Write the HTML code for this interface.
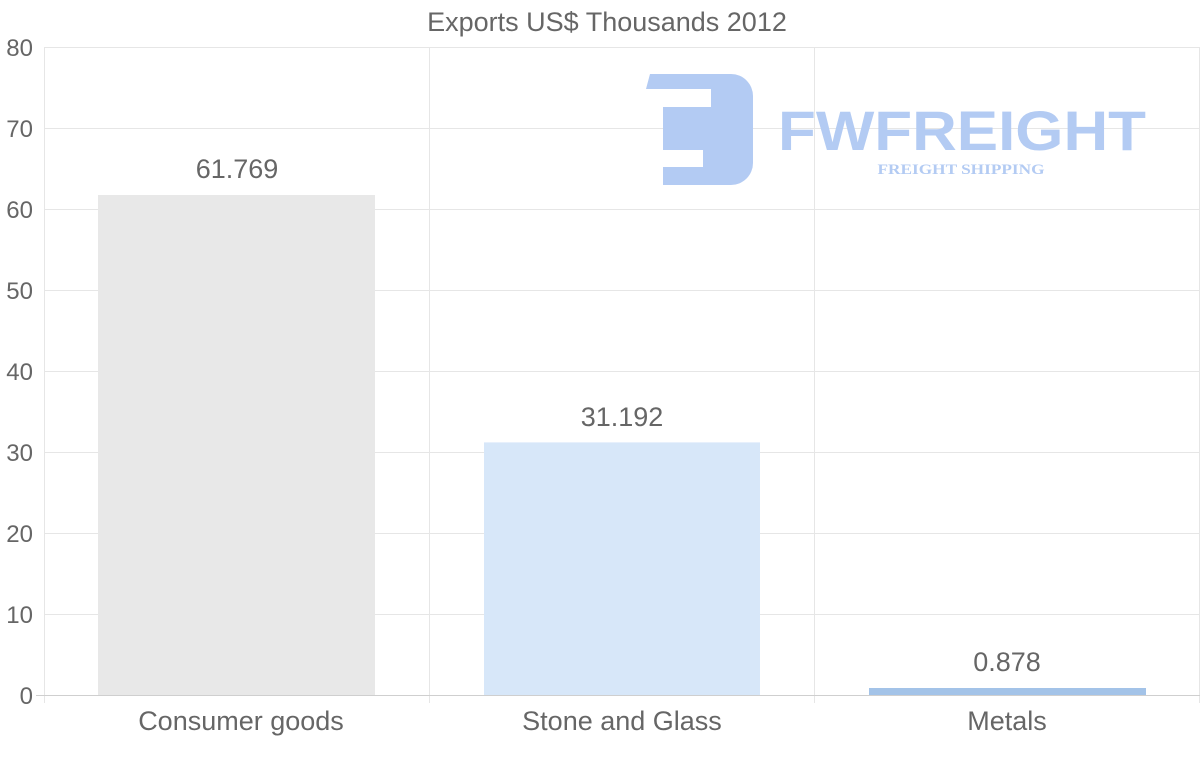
<!DOCTYPE html>
<html><head><meta charset="utf-8"><style>
body{margin:0;background:#fff;}
svg text{font-family:"Liberation Sans",Arial,sans-serif;}
</style></head><body>
<svg width="1200" height="763" xmlns="http://www.w3.org/2000/svg">
<rect width="1200" height="763" fill="#fff"/>
<g stroke="#e6e6e6" stroke-width="1">
<line x1="44" y1="47.5" x2="1200" y2="47.5"/>
<line x1="44" y1="128.5" x2="1200" y2="128.5"/>
<line x1="44" y1="209.5" x2="1200" y2="209.5"/>
<line x1="44" y1="290.5" x2="1200" y2="290.5"/>
<line x1="44" y1="371.5" x2="1200" y2="371.5"/>
<line x1="44" y1="452.5" x2="1200" y2="452.5"/>
<line x1="44" y1="533.5" x2="1200" y2="533.5"/>
<line x1="44" y1="614.5" x2="1200" y2="614.5"/>
<line x1="44.5" y1="47" x2="44.5" y2="703"/>
<line x1="429.5" y1="47" x2="429.5" y2="703"/>
<line x1="814.5" y1="47" x2="814.5" y2="703"/>
<line x1="1199.5" y1="47" x2="1199.5" y2="703"/>
</g>
<line x1="36" y1="695.5" x2="1200" y2="695.5" stroke="#cfcfcf"/>
<g fill="#b3cbf3">
<rect x="663" y="74" width="90" height="111" rx="22"/>
<rect x="663" y="74" width="40" height="111"/>
<polygon points="650,74 690,74 690,89 646,89"/>
</g>
<g fill="#fff">
<rect x="663" y="89" width="48" height="18"/>
<rect x="646" y="150" width="57" height="17"/>
</g>
<text x="962" y="150" text-anchor="middle" font-size="56" font-weight="bold" fill="#b3cbf3" textLength="368" lengthAdjust="spacingAndGlyphs">FWFREIGHT</text>
<text x="961" y="174" text-anchor="middle" font-size="15" font-weight="bold" fill="#b3cbf3" style="font-family:'Liberation Serif',serif" textLength="167" lengthAdjust="spacingAndGlyphs">FREIGHT SHIPPING</text>
<rect x="98" y="195" width="277" height="500" fill="#e8e8e8"/>
<rect x="484" y="442.4" width="276" height="252.6" fill="#d7e7f9"/>
<rect x="869" y="688" width="277" height="7" fill="#a3c3e8"/>
<g fill="#666" font-size="27" text-anchor="middle">
<text x="237" y="178">61.769</text>
<text x="622" y="426">31.192</text>
<text x="1007" y="671">0.878</text>
<text x="241" y="730">Consumer goods</text>
<text x="622" y="730">Stone and Glass</text>
<text x="1007" y="730">Metals</text>
</g>
<g fill="#666" font-size="24" text-anchor="end">
<text x="33" y="56">80</text>
<text x="33" y="137">70</text>
<text x="33" y="218">60</text>
<text x="33" y="299">50</text>
<text x="33" y="380">40</text>
<text x="33" y="461">30</text>
<text x="33" y="542">20</text>
<text x="33" y="623">10</text>
<text x="33" y="704">0</text>
</g>
<text x="607" y="31" text-anchor="middle" font-size="27" fill="#666">Exports US$ Thousands 2012</text>
</svg>
</body></html>
